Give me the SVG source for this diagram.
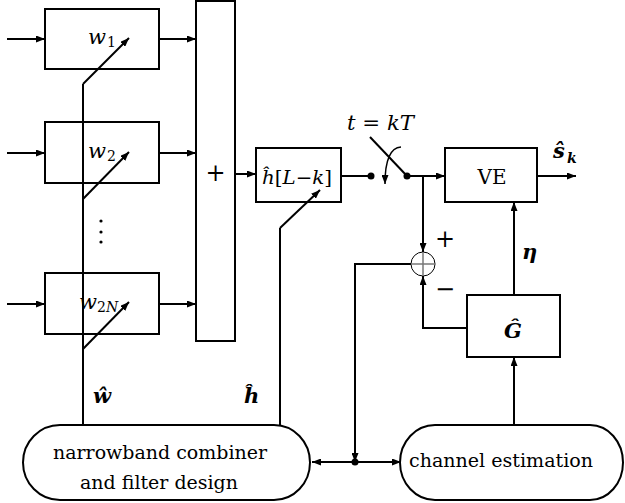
<svg xmlns="http://www.w3.org/2000/svg" width="625" height="503" viewBox="0 0 625 503" font-family="DejaVu Serif, Liberation Serif, Times New Roman, serif">
<style>
.box{fill:none;stroke:#000;stroke-width:2}
.ln{fill:none;stroke:#000;stroke-width:2}
.thin{fill:none;stroke:#000;stroke-width:1.5}
.arr{marker-end:url(#ah)}
text{fill:#000}
.rm{font-size:19px}
.mi{font-size:21px;font-style:italic}
.sub{font-size:14px}
.subi{font-size:14px;font-style:italic}
.bi{font-size:21px;font-style:italic;font-weight:bold}
.op{font-size:24px;text-anchor:middle}
</style>
<defs>
<marker id="ah" markerUnits="userSpaceOnUse" markerWidth="9" markerHeight="7" refX="9" refY="3.5" orient="auto">
<path d="M0,0 L9,3.5 L0,7 z" fill="#000"/>
</marker>
</defs>

<g id="w1">
<rect class="box" x="45" y="9" width="114" height="60"/>
<text class="mi" x="88" y="44">w</text><text class="sub" x="107" y="47">1</text>
</g>
<g id="w2">
<rect class="box" x="45" y="122" width="114" height="61"/>
<text class="mi" x="88" y="158">w</text><text class="sub" x="107" y="161">2</text>
</g>
<g id="dots">
<circle cx="101" cy="221" r="1.6" fill="#000"/>
<circle cx="101" cy="232" r="1.6" fill="#000"/>
<circle cx="101" cy="242" r="1.6" fill="#000"/>
</g>
<g id="w2N">
<rect class="box" x="45" y="273" width="114" height="61"/>
<text class="mi" x="79" y="309">w</text><text class="sub" x="97" y="312">2</text><text class="subi" x="106" y="312">N</text>
</g>
<g id="sum">
<rect class="box" x="196" y="1" width="39" height="340"/>
<text class="op" x="215.5" y="181">+</text>
</g>
<g id="hfilter">
<rect class="box" x="256" y="148" width="85" height="54"/>
<text x="262" y="184" style="font-size:19px" textLength="70" lengthAdjust="spacingAndGlyphs"><tspan font-style="italic">ĥ</tspan>[<tspan font-style="italic">L</tspan>−<tspan font-style="italic">k</tspan>]</text>
</g>
<g id="switch">
<circle cx="371" cy="176" r="3.5" fill="#000"/>
<circle cx="407" cy="176" r="3.5" fill="#000"/>
<line class="ln" x1="370" y1="137" x2="407" y2="176" stroke-width="1.5"/>
<path class="thin arr" d="M401,147 Q385,148 385,184"/>
<text class="mi" x="347" y="130" style="font-size:20px" textLength="67" lengthAdjust="spacingAndGlyphs">t<tspan font-style="normal"> = </tspan>kT</text>
</g>
<g id="VE">
<rect class="box" x="445" y="148" width="92" height="54"/>
<text x="492" y="184" style="font-size:20px;text-anchor:middle">VE</text>
<text class="bi" x="553" y="158">ŝ</text><text class="subi" x="567" y="163" font-weight="bold">k</text>
</g>
<g id="adder">
<circle cx="423" cy="264" r="12" fill="#fff" stroke="#000" stroke-width="1"/>
<line x1="411" y1="264" x2="435" y2="264" stroke="#777" stroke-width="1.5"/>
<line x1="423" y1="252" x2="423" y2="276" stroke="#777" stroke-width="1.5"/>
<text class="op" x="445" y="247">+</text>
<text class="op" x="445" y="297">−</text>
</g>
<g id="G">
<rect class="box" x="467" y="295" width="93" height="62"/>
<text class="bi" x="513" y="338" style="text-anchor:middle">Ĝ</text>
<text class="bi" x="522" y="259">η</text>
</g>
<g id="combiner">
<path class="ln" d="M60,425 H274 A36,37.5 0 0 1 274,500 H60 A37,37.5 0 0 1 60,425 Z"/>
<text class="rm" x="160" y="459" text-anchor="middle" textLength="214" lengthAdjust="spacingAndGlyphs">narrowband combiner</text>
<text class="rm" x="159" y="489" text-anchor="middle" textLength="158" lengthAdjust="spacingAndGlyphs">and filter design</text>
<text class="bi" x="93" y="403">ŵ</text>
<text class="bi" x="244" y="403">ĥ</text>
</g>
<g id="chanest">
<path class="ln" d="M435,425 H590 A33,37.5 0 0 1 590,500 H435 A35,37.5 0 0 1 435,425 Z"/>
<text class="rm" x="409" y="467" textLength="184" lengthAdjust="spacingAndGlyphs">channel estimation</text>
</g>

<g id="connectors">
<line class="ln arr" x1="7" y1="39" x2="45" y2="39"/>
<line class="ln arr" x1="7" y1="153" x2="45" y2="153" stroke-width="2.5"/>
<line class="ln arr" x1="7" y1="304" x2="45" y2="304"/>
<line class="ln arr" x1="159" y1="39" x2="196" y2="39"/>
<line class="ln arr" x1="159" y1="153" x2="196" y2="153" stroke-width="2.5"/>
<line class="ln arr" x1="159" y1="304" x2="196" y2="304"/>
<polyline class="ln" points="83,425 83,84"/>
<line class="ln arr" x1="83" y1="84" x2="129" y2="38"/>
<line class="ln arr" x1="83" y1="199" x2="129" y2="152"/>
<line class="ln arr" x1="83" y1="349" x2="129" y2="302"/>
<line class="ln arr" x1="235" y1="174" x2="256" y2="174"/>
<polyline class="ln" points="280,425 280,228"/>
<line class="ln arr" x1="280" y1="228" x2="320" y2="190"/>
<line class="ln" x1="341" y1="176" x2="371" y2="176"/>
<line class="ln arr" x1="407" y1="176" x2="445" y2="176"/>
<line class="ln arr" x1="537" y1="176" x2="576" y2="176"/>
<line class="ln arr" x1="423" y1="176" x2="423" y2="252"/>
<polyline class="ln arr" points="467,328 423,328 423,276"/>
<polyline class="ln arr" points="411,264 355,264 355,462"/>
<line class="ln arr" x1="355" y1="462" x2="312" y2="462"/>
<line class="ln arr" x1="355" y1="462" x2="401" y2="462"/>
<circle cx="355" cy="462" r="3.5" fill="#000"/>
<line class="ln arr" x1="514" y1="295" x2="514" y2="202"/>
<line class="ln arr" x1="514" y1="425" x2="514" y2="357"/>
</g>
</svg>
